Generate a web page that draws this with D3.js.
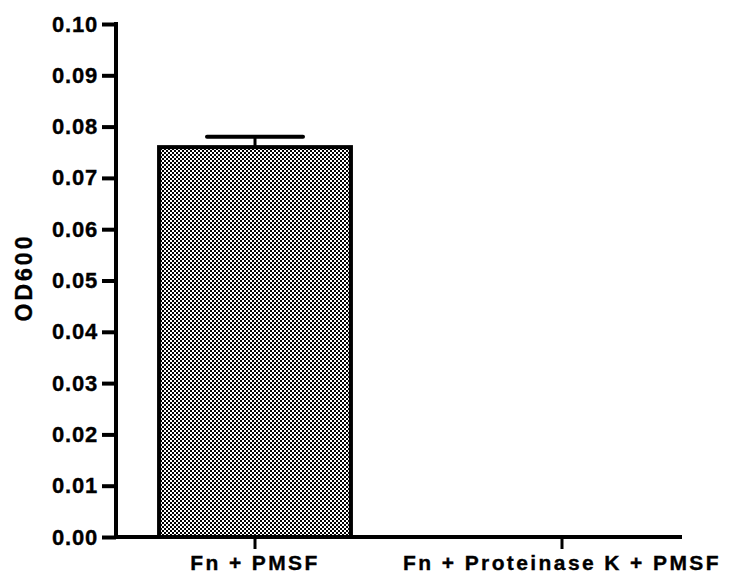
<!DOCTYPE html>
<html>
<head>
<meta charset="utf-8">
<script src="https://cdn.jsdelivr.net/npm/d3@7"></script>
<style>
  html, body { margin: 0; padding: 0; background: #fff; }
  svg { display: block; }
  text { font-family: "Liberation Sans", Arial, sans-serif; font-weight: bold; fill: #000; stroke: #000; stroke-width: 0.35px; }
</style>
</head>
<body>
<svg id="chart" width="730" height="577"></svg>
<script>
const categories = ["Fn + PMSF", "Fn + Proteinase K + PMSF"];
const values = [0.076, 0.0];
const errors = [0.002, 0.0];
const yTicks = [0, 0.01, 0.02, 0.03, 0.04, 0.05, 0.06, 0.07, 0.08, 0.09, 0.10];
const yLabel = "OD600";

const svg = d3.select("#chart");
const axisLeft = 116, axisRight = 682, yTop = 24, yBottom = 537;

const y = d3.scaleLinear().domain([0, 0.10]).range([yBottom, yTop]);
const x = d3.scaleBand().domain(categories).range([101.5, 715.5]).paddingInner(0.375).paddingOuter(0.1875);

// pattern
const defs = svg.append("defs");
const pat = defs.append("pattern").attr("id", "checker").attr("patternUnits", "userSpaceOnUse")
  .attr("width", 4).attr("height", 4);
pat.append("rect").attr("width", 4).attr("height", 4).attr("fill", "#fff");
pat.append("rect").attr("x", 0).attr("y", 0).attr("width", 2).attr("height", 2).attr("fill", "#000");
pat.append("rect").attr("x", 2).attr("y", 2).attr("width", 2).attr("height", 2).attr("fill", "#000");

// error bars
const eb = svg.append("g");
categories.forEach((c, i) => {
  if (errors[i] <= 0) return;
  const cx = x(c) + x.bandwidth() / 2;
  eb.append("line").attr("x1", cx).attr("x2", cx)
    .attr("y1", y(values[i])).attr("y2", y(values[i] + errors[i]))
    .attr("stroke", "#000").attr("stroke-width", 3);
  eb.append("line").attr("x1", cx - 48).attr("x2", cx + 48)
    .attr("y1", y(values[i] + errors[i])).attr("y2", y(values[i] + errors[i]))
    .attr("stroke", "#000").attr("stroke-width", 4).attr("stroke-linecap", "round");
});

// bars
svg.append("g").selectAll("rect").data(categories).join("rect")
  .attr("x", d => x(d))
  .attr("y", (d, i) => y(values[i]))
  .attr("width", x.bandwidth())
  .attr("height", (d, i) => y(0) - y(values[i]))
  .attr("fill", "url(#checker)")
  .attr("stroke", "#000")
  .attr("stroke-width", (d, i) => values[i] > 0 ? 4 : 0);

// y axis
const yAxis = d3.axisLeft(y).tickValues(yTicks).tickFormat(d3.format(".2f")).tickSizeInner(14).tickSizeOuter(0).tickPadding(4);
const gy = svg.append("g").attr("transform", `translate(${axisLeft},0)`).call(yAxis);
gy.select(".domain").attr("stroke", "#000").attr("stroke-width", 4)
  .attr("d", `M-2,${yTop}H0V${yBottom}`).attr("fill", "none").attr("stroke-linejoin", "miter");
gy.selectAll(".tick line").attr("stroke", "#000").attr("stroke-width", 4);
gy.selectAll(".tick text").attr("font-size", 22).attr("letter-spacing", 0.8)
  .attr("font-family", "Liberation Sans, Arial, sans-serif").attr("font-weight", "bold").attr("fill", "#000");

// x axis
const xAxis = d3.axisBottom(x).tickSizeInner(12).tickSizeOuter(0).tickPadding(6);
const gx = svg.append("g").attr("transform", `translate(0,${yBottom})`).call(xAxis);
gx.select(".domain").attr("stroke", "#000").attr("stroke-width", 4)
  .attr("d", `M${axisLeft - 2},0H${axisRight}`);
gx.selectAll(".tick line").attr("stroke", "#000").attr("stroke-width", 3);
gx.selectAll(".tick text").attr("font-size", 21).attr("letter-spacing", 2.4)
  .attr("font-family", "Liberation Sans, Arial, sans-serif").attr("font-weight", "bold").attr("fill", "#000");

// y label
svg.append("text")
  .attr("transform", `translate(32,${(yTop + yBottom) / 2 - 3}) rotate(-90)`)
  .attr("text-anchor", "middle")
  .attr("font-size", 23)
  .attr("letter-spacing", 3)
  .text(yLabel);
</script>
</body>
</html>
